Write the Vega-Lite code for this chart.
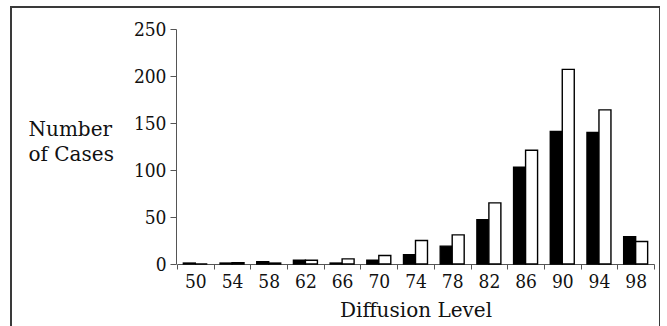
{
  "$schema": "https://vega.github.io/schema/vega-lite/v6.json",
  "autosize": "none",
  "width": 649,
  "height": 330,
  "padding": {"left": 11, "top": 7, "right": 0, "bottom": 0},
  "background": "white",
  "config": {
    "view": {"stroke": "#3a3a3a", "strokeWidth": 2},
    "font": "DejaVu Serif Condensed"
  },
  "data": {
    "values": [
      {"level": 50, "s": "a", "n": 1}, {"level": 50, "s": "b", "n": 0},
      {"level": 54, "s": "a", "n": 1}, {"level": 54, "s": "b", "n": 1.5},
      {"level": 58, "s": "a", "n": 2.5}, {"level": 58, "s": "b", "n": 1},
      {"level": 62, "s": "a", "n": 4}, {"level": 62, "s": "b", "n": 4},
      {"level": 66, "s": "a", "n": 1}, {"level": 66, "s": "b", "n": 5.5},
      {"level": 70, "s": "a", "n": 4}, {"level": 70, "s": "b", "n": 9},
      {"level": 74, "s": "a", "n": 10}, {"level": 74, "s": "b", "n": 25},
      {"level": 78, "s": "a", "n": 19}, {"level": 78, "s": "b", "n": 31},
      {"level": 82, "s": "a", "n": 47}, {"level": 82, "s": "b", "n": 65},
      {"level": 86, "s": "a", "n": 103}, {"level": 86, "s": "b", "n": 121},
      {"level": 90, "s": "a", "n": 141}, {"level": 90, "s": "b", "n": 207},
      {"level": 94, "s": "a", "n": 140}, {"level": 94, "s": "b", "n": 164},
      {"level": 98, "s": "a", "n": 29}, {"level": 98, "s": "b", "n": 24}
    ]
  },
  "mark": {"type": "bar", "stroke": "black", "strokeWidth": 1.4},
  "encoding": {
    "x": {
      "field": "level",
      "type": "ordinal",
      "scale": {"range": [166, 643], "paddingInner": 0, "paddingOuter": 0},
      "axis": {
        "title": "Diffusion Level",
        "offset": -73,
        "tickBand": "extent",
        "labelAngle": 0,
        "tickSize": 5,
        "labelPadding": 3,
        "labelFontSize": 19,
        "labelColor": "#111",
        "titleFont": "DejaVu Serif",
        "titleFontSize": 20,
        "titleFontWeight": "normal",
        "titleColor": "#111",
        "titleBaseline": "alphabetic",
        "titleY": 52,
        "domainColor": "#555",
        "tickColor": "#555"
      }
    },
    "xOffset": {
      "field": "s",
      "scale": {"paddingInner": 0, "paddingOuter": 0.53}
    },
    "y": {
      "field": "n",
      "type": "quantitative",
      "scale": {"domain": [0, 250], "range": [257, 22], "nice": false},
      "axis": {
        "title": ["Number", "of Cases"],
        "titleFont": "DejaVu Serif",
        "titleAngle": 0,
        "titleAlign": "left",
        "titleBaseline": "alphabetic",
        "titleX": -148,
        "titleY": 128,
        "titleFontSize": 20,
        "titleFontWeight": "normal",
        "titleLineHeight": 25,
        "titleColor": "#111",
        "offset": -165,
        "values": [0, 50, 100, 150, 200, 250],
        "tickSize": 6,
        "labelPadding": 4,
        "labelFontSize": 19,
        "labelColor": "#111",
        "grid": false,
        "domainColor": "#555",
        "tickColor": "#555"
      }
    },
    "fill": {
      "field": "s",
      "type": "nominal",
      "scale": {"domain": ["a", "b"], "range": ["black", "white"]},
      "legend": null
    }
  }
}
